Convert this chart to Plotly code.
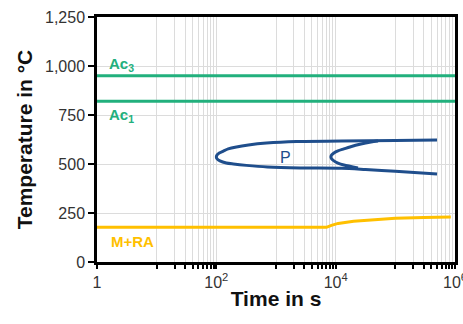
import numpy as np
import plotly.graph_objects as go

# ---- data ----
ac3_temp = 950
ac1_temp = 820
time_span = [1, 1e6]

# pearlite start curve (outer C): top branch end -> nose -> bottom branch end
p_outer_t = [5e5, 1e5, 12590, 2213, 692, 345, 217, 158, 131, 112, 103, 100,
             103, 115, 147, 193, 319, 719, 2570, 12590, 31600, 1e5, 5e5]
p_outer_T = [622, 620, 617, 615, 607, 597, 587, 577, 566, 556, 546, 536,
             526, 516, 505, 500, 493, 485, 480, 478, 472, 463, 449]

# pearlite finish curve (inner C), merging into the outer branches
p_inner_t = [51290, 39080, 26550, 17340, 13740, 10914, 9333, 8570, 8318,
             8570, 9333, 10914, 13740, 23660]
p_inner_T = [617, 612, 602, 587, 577, 567, 556, 546, 536,
             526, 516, 505, 495, 480]

# martensite + retained austenite
m_t = [1, 7000, 8500, 1.1e4, 2e4, 4.4e4, 1e5, 3e5, 8.5e5]
m_T = [177, 177, 187, 197, 208, 217, 223, 227, 229]

x_tickvals = [1, 10, 20, 30, 40, 50, 60, 70, 80, 90, 100,
              1000, 2000, 3000, 4000, 5000, 6000, 7000, 8000, 9000, 1e4,
              1e5, 2e5, 3e5, 4e5, 5e5, 6e5, 7e5, 8e5, 9e5, 1e6]
x_major = {1: "1", 100: "10<sup>2</sup>", 1e4: "10<sup>4</sup>", 1e6: "10<sup>6</sup>"}
x_ticktext = [x_major.get(v, "") for v in x_tickvals]
y_tickvals = [0, 250, 500, 750, 1000, 1250]

GREEN = "#22B07D"
BLUE = "#1F4E8C"
ORANGE = "#FFC000"

fig = go.Figure()
fig.add_trace(go.Scatter(x=time_span, y=[ac3_temp, ac3_temp], mode="lines",
                         line=dict(color=GREEN, width=3)))
fig.add_trace(go.Scatter(x=time_span, y=[ac1_temp, ac1_temp], mode="lines",
                         line=dict(color=GREEN, width=3)))
fig.add_trace(go.Scatter(x=p_outer_t, y=p_outer_T, mode="lines",
                         line=dict(color=BLUE, width=3, shape="spline", smoothing=0.8)))
fig.add_trace(go.Scatter(x=p_inner_t, y=p_inner_T, mode="lines",
                         line=dict(color=BLUE, width=3, shape="spline", smoothing=0.8)))
fig.add_trace(go.Scatter(x=m_t, y=m_T, mode="lines",
                         line=dict(color=ORANGE, width=3)))

lab_font = dict(family="Liberation Sans, Arial, sans-serif", size=15)
fig.add_annotation(x=np.log10(1.45), y=1010, xref="x", yref="y", text="<b>Ac<sub>3</sub></b>",
                   showarrow=False, xanchor="left", yanchor="middle",
                   font=dict(**lab_font, color=GREEN))
fig.add_annotation(x=np.log10(1.45), y=745, xref="x", yref="y", text="<b>Ac<sub>1</sub></b>",
                   showarrow=False, xanchor="left", yanchor="middle",
                   font=dict(**lab_font, color=GREEN))
fig.add_annotation(x=np.log10(1.6), y=105, xref="x", yref="y", text="<b>M+RA</b>",
                   showarrow=False, xanchor="left", yanchor="middle",
                   font=dict(**lab_font, color=ORANGE))
fig.add_annotation(x=np.log10(1450), y=534, xref="x", yref="y", text="P",
                   showarrow=False, xanchor="center", yanchor="middle",
                   font=dict(family="Liberation Sans, Arial, sans-serif", size=16, color=BLUE))

tick_font = dict(family="Liberation Sans, Arial, sans-serif", size=16, color="#333333")
title_font = dict(family="Liberation Sans, Arial, sans-serif", size=21, color="#111111")

fig.update_xaxes(type="log", range=[0, 6], tickvals=x_tickvals, ticktext=x_ticktext,
                 showgrid=True, gridcolor="#DCDCDC", gridwidth=1,
                 ticks="outside", ticklen=4, tickwidth=2, tickcolor="black",
                 showline=True, linecolor="black", linewidth=2.5, mirror=True,
                 tickfont=tick_font, zeroline=False, ticklabeloverflow="allow",
                 automargin=False,
                 title=dict(text="<b>Time in s</b>", font=title_font, standoff=2))
fig.update_yaxes(range=[0, 1250], tickvals=y_tickvals, tickformat=",d",
                 showgrid=True, gridcolor="#DCDCDC", gridwidth=1,
                 ticks="outside", ticklen=6, tickwidth=2, tickcolor="black",
                 showline=True, linecolor="black", linewidth=2.5, mirror=True,
                 tickfont=tick_font, zeroline=False, automargin=False,
                 title=dict(text="<b>Temperature in °C</b>", font=title_font, standoff=7))

fig.update_layout(width=463, height=324, showlegend=False,
                  margin=dict(l=97, r=8, t=17, b=62),
                  plot_bgcolor="white", paper_bgcolor="white")

fig.write_html("out.html")
